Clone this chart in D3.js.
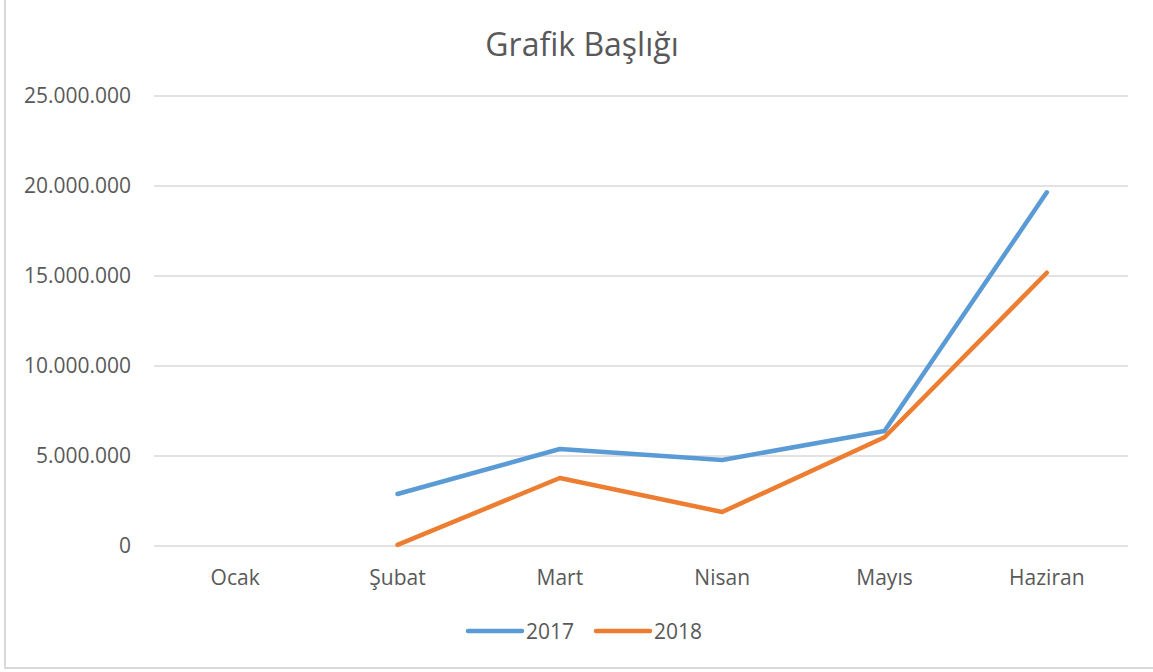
<!DOCTYPE html>
<html>
<head>
<meta charset="utf-8">
<script src="https://cdn.jsdelivr.net/npm/d3@7"></script>
<style>
  body { margin: 0; background: #fff; }
  svg { display: block; font-family: "Open Sans", "Noto Sans", sans-serif; }
</style>
</head>
<body>
<svg id="chart" width="1153" height="672"></svg>
<script>
const months = ["Ocak", "Şubat", "Mart", "Nisan", "Mayıs", "Haziran"];
const yTicks = [0, 5000000, 10000000, 15000000, 20000000, 25000000];
const values2017 = [null, 2890000, 5390000, 4780000, 6390000, 19650000];
const values2018 = [null, 60000, 3780000, 1890000, 6040000, 15180000];
const seriesNames = ["2017", "2018"];
const seriesColors = ["#5B9BD5", "#ED7D31"];

const svg = d3.select("#chart");
const width = 1153, height = 672;
const margin = { top: 96, right: 25, bottom: 126, left: 154 };

// chart border (left + bottom visible in the crop)
svg.append("path")
    .attr("d", `M5,0 V668 H${width}`)
    .attr("fill", "none")
    .attr("stroke", "#d9d9d9")
    .attr("stroke-width", 2);

const x = d3.scaleBand()
    .domain(months)
    .range([margin.left, width - margin.right]);

const y = d3.scaleLinear()
    .domain([0, 25000000])
    .range([height - margin.bottom, margin.top]);

const fmt = d => d3.format(",")(d).replace(/,/g, ".");

// gridlines
svg.append("g")
    .selectAll("line")
    .data(yTicks)
    .join("line")
    .attr("x1", margin.left)
    .attr("x2", width - margin.right)
    .attr("y1", d => y(d))
    .attr("y2", d => y(d))
    .attr("stroke", "#d9d9d9")
    .attr("stroke-width", 1.3);

// Y axis labels
const yAxis = svg.append("g")
    .attr("transform", `translate(${margin.left - 23},0)`)
    .call(d3.axisLeft(y).tickValues(yTicks).tickFormat(fmt).tickSize(0).tickPadding(0));
yAxis.select(".domain").remove();
yAxis.selectAll("text")
    .style("font-size", "21px")
    .style("fill", "#595959")
    .style("font-family", "'Open Sans', sans-serif");

// X axis labels
const xAxis = svg.append("g")
    .attr("transform", `translate(0,${height - margin.bottom})`)
    .call(d3.axisBottom(x).tickSize(0).tickPadding(24));
xAxis.select(".domain").remove();
xAxis.selectAll("text")
    .style("font-size", "21px")
    .style("fill", "#595959")
    .style("font-family", "'Open Sans', sans-serif");

// title
svg.append("text")
    .attr("x", 582)
    .attr("y", 56)
    .attr("text-anchor", "middle")
    .style("font-size", "32px")
    .style("fill", "#595959")
    .text("Grafik Başlığı");

// lines
const line = d3.line()
    .defined(d => d.v != null)
    .x(d => x(d.m) + x.bandwidth() / 2)
    .y(d => y(d.v));

[values2017, values2018].forEach((vals, i) => {
    svg.append("path")
        .datum(months.map((m, j) => ({ m, v: vals[j] })))
        .attr("d", line)
        .attr("fill", "none")
        .attr("stroke", seriesColors[i])
        .attr("stroke-width", 4.5)
        .attr("stroke-linecap", "round")
        .attr("stroke-linejoin", "round");
});

// legend
const legendX = [468, 596];
const legend = svg.append("g");
seriesNames.forEach((name, i) => {
    legend.append("line")
        .attr("x1", legendX[i]).attr("x2", legendX[i] + 54)
        .attr("y1", 631).attr("y2", 631)
        .attr("stroke", seriesColors[i])
        .attr("stroke-width", 4.5)
        .attr("stroke-linecap", "round");
    legend.append("text")
        .attr("x", legendX[i] + 58)
        .attr("y", 639)
        .style("font-size", "21px")
        .style("fill", "#595959")
        .text(name);
});
</script>
</body>
</html>
